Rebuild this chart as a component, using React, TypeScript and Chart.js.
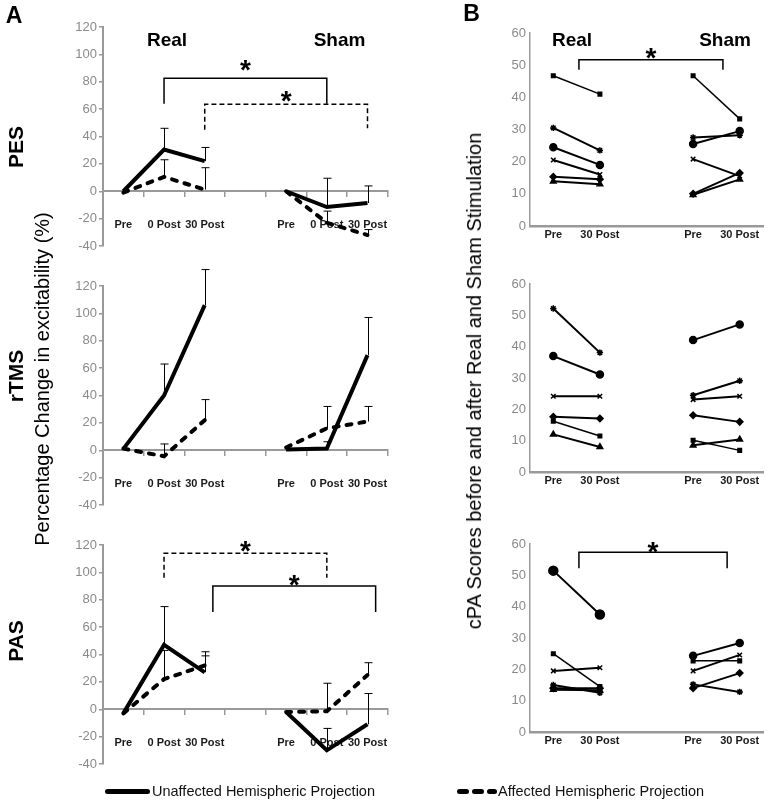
import React, { useEffect, useRef } from 'react';
import { Chart, registerables } from 'chart.js';

Chart.register(...registerables);

const FONT = "'Liberation Sans', Arial, Helvetica, sans-serif";

// ---------- Panel A data (percentage change in excitability) ----------
const A_LABELS = ['Pre', '0 Post', '30 Post', '', 'Pre', '0 Post', '30 Post'];

// PES
const pesRealUnaff = [0, 30.5, 22];
const pesRealUnaffErr = [0, 15.5, 10];
const pesRealAff = [-1, 10.5, 1.2];
const pesRealAffErr = [0, 12.5, 16];
const pesShamUnaff = [0, -11.5, -8.6];
const pesShamUnaffErr = [0, 21, 12.5];
const pesShamAff = [0, -23, -32];
const pesShamAffErr = [0, 8.5, 4];

// rTMS
const rtmsRealUnaff = [1, 40, 106];
const rtmsRealUnaffErr = [0, 23, 26];
const rtmsRealAff = [1.2, -4.4, 22];
const rtmsRealAffErr = [0, 9, 15];
const rtmsShamUnaff = [0.5, 1.2, 69.5];
const rtmsShamUnaffErr = [0, 5, 27.5];
const rtmsShamAff = [2, 16, 21];
const rtmsShamAffErr = [0, 16, 11];

// PAS
const pasRealUnaff = [-3, 47, 27];
const pasRealUnaffErr = [0, 28, 15];
const pasRealAff = [-3, 22, 32];
const pasRealAffErr = [0, 21, 7];
const pasShamUnaff = [-2, -30, -11];
const pasShamUnaffErr = [0, 16, 22.5];
const pasShamAff = [-2, -1.5, 25];
const pasShamAffErr = [0, 20.5, 9];

// significance brackets (category index / value units)
const pesBrackets = [
  { from: 1, to: 5, top: 82.5, leftEnd: 64, rightEnd: 64, dashed: false, star: 94 },
  { from: 2, to: 6, top: 63.5, leftEnd: 45, rightEnd: 46, dashed: true, star: 71 },
];
const pasBrackets = [
  { from: 1, to: 5, top: 114, leftEnd: 96, rightEnd: 96, dashed: true, star: 121 },
  { from: 2.2, to: 6.2, top: 90, leftEnd: 71, rightEnd: 71, dashed: false, star: 96 },
];

// ---------- Panel B data (cPA scores) ----------
const B_LABELS = ['Pre', '30 Post', '', 'Pre', '30 Post'];
const B_MARKERS = ['rect', 'star', 'circle', 'crossRot', 'rectRot', 'triangle'];

const b1RealPre = [46.7, 30.5, 24.5, 20.5, 15.3, 13.9];
const b1RealPost = [41, 23.5, 19, 16, 14.5, 13];
const b1ShamPre = [46.7, 27.5, 25.5, 20.8, 10, 9.7];
const b1ShamPost = [33.3, 28.2, 29.5, 15.5, 16.5, 14.5];

const b2RealPre = [16.2, 52.2, 37, 24.2, 17.6, 12];
const b2RealPost = [11.5, 38.1, 31.1, 24.2, 17.1, 8];
const b2ShamPre = [10.1, 24.5, 42.1, 23.1, 18.1, 8.5];
const b2ShamPost = [6.9, 29.1, 47.1, 24.2, 16, 10.4];

const b3RealPre = [25, 15, 51.5, 19.5, 14, 13.5];
const b3RealPost = [14.5, 12.5, 37.5, 20.5, 14, 13.3];
const b3ShamPre = [22.7, 15.2, 24.3, 19.5, 14, null];
const b3ShamPost = [22.7, 12.8, 28.4, 24.6, 18.8, null];

const b1Brackets = [{ from: 0.55, to: 3.64, top: 51.7, leftEnd: 48.6, rightEnd: 48.6, dashed: false, star: 54.3 }];
const b3Brackets = [{ from: 0.55, to: 3.73, top: 57.4, leftEnd: 52.3, rightEnd: 52.3, dashed: false, star: 59.8 }];

// ---------- plugin: error bars + brackets ----------
const extrasPlugin = {
  id: 'extras',
  afterDatasetsDraw(chart: any, _args: any, opts: any) {
    const ctx = chart.ctx;
    const xs = chart.scales.x;
    const ys = chart.scales.y;
    ctx.save();
    chart.data.datasets.forEach((ds: any) => {
      const err = ds.errorBars;
      if (!err) return;
      ds.data.forEach((v: number | null, j: number) => {
        const e = err[j];
        if (v == null || !e) return;
        const x = Math.round(xs.getPixelForValue(j)) + 0.5;
        const y0 = ys.getPixelForValue(v);
        const y1 = ys.getPixelForValue(v + e);
        ctx.strokeStyle = '#000';
        ctx.lineWidth = 1;
        ctx.setLineDash([]);
        ctx.beginPath();
        ctx.moveTo(x, y0);
        ctx.lineTo(x, y1);
        ctx.moveTo(x - 4, y1);
        ctx.lineTo(x + 4, y1);
        ctx.stroke();
      });
    });
    (opts.brackets || []).forEach((b: any) => {
      const x1 = xs.getPixelForValue(b.from);
      const x2 = xs.getPixelForValue(b.to);
      const yt = ys.getPixelForValue(b.top);
      ctx.strokeStyle = '#000';
      ctx.lineWidth = 1.5;
      ctx.setLineDash(b.dashed ? [5, 3] : []);
      ctx.beginPath();
      ctx.moveTo(x1, ys.getPixelForValue(b.leftEnd));
      ctx.lineTo(x1, yt);
      ctx.lineTo(x2, yt);
      ctx.lineTo(x2, ys.getPixelForValue(b.rightEnd));
      ctx.stroke();
      ctx.setLineDash([]);
      const fs = 28;
      ctx.font = `bold ${fs}px ${FONT}`;
      ctx.fillStyle = '#000';
      ctx.textAlign = 'center';
      ctx.textBaseline = 'alphabetic';
      ctx.fillText('*', (x1 + x2) / 2, ys.getPixelForValue(b.star) + 0.57 * fs);
    });
    ctx.restore();
  },
};

// ---------- builders ----------
const PAD4 = [null, null, null, null];
function aSeries(vals: number[], errs: number[], group: 'real' | 'sham', dashed: boolean) {
  const data = group === 'real' ? [...vals, ...PAD4] : [...PAD4, ...vals];
  const errorBars = group === 'real' ? [...errs, ...PAD4] : [...PAD4, ...errs];
  return {
    data,
    errorBars,
    borderColor: '#000',
    borderWidth: 4,
    borderDash: dashed ? [5, 8] : [],
    borderCapStyle: dashed ? 'round' : 'butt',
    pointRadius: 0,
    fill: false,
    spanGaps: false,
    tension: 0,
  };
}

function aConfig(datasets: any[], brackets: any[], padding: any) {
  return {
    type: 'line',
    data: { labels: A_LABELS, datasets },
    options: {
      responsive: false,
      animation: false,
      layout: { padding },
      plugins: { legend: { display: false }, tooltip: { enabled: false }, extras: { brackets } },
      scales: {
        x: {
          type: 'category',
          position: { y: 0 },
          offset: true,
          grid: { display: true, offset: true, drawOnChartArea: false, drawTicks: true, tickLength: 5, color: '#999', lineWidth: 1.5 },
          border: { display: true, color: '#999', width: 2 },
          ticks: { autoSkip: false, maxRotation: 0, minRotation: 0, padding: 22, color: '#1a1a1a', font: { family: FONT, size: 11, weight: 'bold' } },
        },
        y: {
          min: -40,
          max: 120,
          ticks: { stepSize: 20, padding: 2, color: '#8a8a8a', font: { family: FONT, size: 13 } },
          grid: { display: true, drawOnChartArea: false, drawTicks: true, tickLength: 4, color: '#999', lineWidth: 1.5 },
          border: { display: true, color: '#999', width: 2 },
          afterFit: (s: any) => { s.width = 103; },
        },
      },
    },
    plugins: [extrasPlugin],
  };
}

function bSeries(pre: (number | null)[], post: (number | null)[], group: 'real' | 'sham', bigCircle: boolean) {
  const out: any[] = [];
  pre.forEach((p, i) => {
    const q = post[i];
    if (p == null || q == null) return;
    const data = group === 'real' ? [p, q, null, null, null] : [null, null, null, p, q];
    const style = B_MARKERS[i];
    const r = style === 'circle' ? (bigCircle && group === 'real' ? 4.5 : 3.5) : style === 'rect' ? 2.5 : 3.2;
    out.push({
      data,
      borderColor: '#000',
      borderWidth: style === 'rect' ? 1.5 : 2,
      pointStyle: style,
      pointRadius: r,
      pointBackgroundColor: '#000',
      pointBorderColor: '#000',
      pointBorderWidth: 1.5,
      fill: false,
      spanGaps: false,
      tension: 0,
    });
  });
  return out;
}

function bConfig(datasets: any[], brackets: any[], padding: any) {
  return {
    type: 'line',
    data: { labels: B_LABELS, datasets },
    options: {
      responsive: false,
      animation: false,
      layout: { padding },
      plugins: { legend: { display: false }, tooltip: { enabled: false }, extras: { brackets } },
      scales: {
        x: {
          type: 'category',
          position: { y: 0 },
          offset: true,
          grid: { display: false, drawTicks: false },
          border: { display: true, color: '#999', width: 2.5 },
          ticks: { autoSkip: false, maxRotation: 0, minRotation: 0, padding: 2, color: '#1a1a1a', font: { family: FONT, size: 11, weight: 'bold' } },
        },
        y: {
          min: 0,
          max: 60,
          ticks: { stepSize: 10, padding: 4, color: '#8a8a8a', font: { family: FONT, size: 13 } },
          grid: { display: false, drawTicks: false },
          border: { display: true, color: '#999', width: 1.5 },
          afterFit: (s: any) => { s.width = 60; },
        },
      },
    },
    plugins: [extrasPlugin],
  };
}

type TxtProps = { text: string; x: number; y: number; size: number; bold?: boolean; rotate?: boolean; left?: boolean; color?: string };
function Txt({ text, x, y, size, bold, rotate, left, color }: TxtProps) {
  const style: React.CSSProperties = {
    position: 'absolute',
    left: x,
    top: y,
    fontFamily: FONT,
    fontSize: size,
    fontWeight: bold ? 'bold' : 'normal',
    lineHeight: 1,
    whiteSpace: 'nowrap',
    color: color || '#000',
    transform: left ? 'translate(0,-50%)' : `translate(-50%,-50%)${rotate ? ' rotate(-90deg)' : ''}`,
  };
  return <div style={style}>{text}</div>;
}

export default function App() {
  const refs = [useRef<HTMLCanvasElement>(null), useRef<HTMLCanvasElement>(null), useRef<HTMLCanvasElement>(null),
    useRef<HTMLCanvasElement>(null), useRef<HTMLCanvasElement>(null), useRef<HTMLCanvasElement>(null)];

  useEffect(() => {
    const configs: any[] = [
      aConfig([
        aSeries(pesRealAff, pesRealAffErr, 'real', true),
        aSeries(pesRealUnaff, pesRealUnaffErr, 'real', false),
        aSeries(pesShamAff, pesShamAffErr, 'sham', true),
        aSeries(pesShamUnaff, pesShamUnaffErr, 'sham', false),
      ], pesBrackets, { left: 0, right: 13, top: 27, bottom: 16 }),
      aConfig([
        aSeries(rtmsRealAff, rtmsRealAffErr, 'real', true),
        aSeries(rtmsRealUnaff, rtmsRealUnaffErr, 'real', false),
        aSeries(rtmsShamAff, rtmsShamAffErr, 'sham', true),
        aSeries(rtmsShamUnaff, rtmsShamUnaffErr, 'sham', false),
      ], [], { left: 0, right: 13, top: 24, bottom: 19 }),
      aConfig([
        aSeries(pasRealAff, pasRealAffErr, 'real', true),
        aSeries(pasRealUnaff, pasRealUnaffErr, 'real', false),
        aSeries(pasShamAff, pasShamAffErr, 'sham', true),
        aSeries(pasShamUnaff, pasShamUnaffErr, 'sham', false),
      ], pasBrackets, { left: 0, right: 13, top: 21, bottom: 22 }),
      bConfig([...bSeries(b1RealPre, b1RealPost, 'real', false), ...bSeries(b1ShamPre, b1ShamPost, 'sham', false)],
        b1Brackets, { left: 0, right: 6, top: 33, bottom: 24 }),
      bConfig([...bSeries(b2RealPre, b2RealPost, 'real', false), ...bSeries(b2ShamPre, b2ShamPost, 'sham', false)],
        [], { left: 0, right: 6, top: 34, bottom: 28 }),
      bConfig([...bSeries(b3RealPre, b3RealPost, 'real', true), ...bSeries(b3ShamPre, b3ShamPost, 'sham', false)],
        b3Brackets, { left: 0, right: 6, top: 44, bottom: 18 }),
    ];
    const charts = configs.map((cfg, i) => new Chart(refs[i].current as HTMLCanvasElement, cfg));
    return () => charts.forEach((c) => c.destroy());
  }, []);

  const canv = (i: number, left: number, top: number, w: number, h: number) => (
    <canvas ref={refs[i]} width={w} height={h} style={{ position: 'absolute', left, top, width: w, height: h }} />
  );

  return (
    <div style={{ position: 'absolute', left: 0, top: 0, width: 769, height: 800, background: '#fff', overflow: 'hidden' }}>
      {canv(0, 0, 0, 410, 262)}
      {canv(1, 0, 262, 410, 262)}
      {canv(2, 0, 524, 410, 262)}
      {canv(3, 470, 0, 299, 250)}
      {canv(4, 470, 250, 299, 250)}
      {canv(5, 470, 500, 299, 250)}

      <Txt text="A" x={14} y={14.5} size={23} bold />
      <Txt text="B" x={471.5} y={12.5} size={23} bold />
      <Txt text="Real" x={167} y={38.5} size={19} bold />
      <Txt text="Sham" x={339.5} y={38.5} size={19} bold />
      <Txt text="Real" x={572} y={38.5} size={19} bold />
      <Txt text="Sham" x={725} y={38.5} size={19} bold />
      <Txt text="PES" x={15} y={147} size={21} bold rotate />
      <Txt text="rTMS" x={15} y={376} size={21} bold rotate />
      <Txt text="PAS" x={15} y={641} size={21} bold rotate />
      <Txt text="Percentage Change in excitability (%)" x={42} y={379} size={20} rotate />
      <Txt text="cPA Scores before and after Real and Sham Stimulation" x={474} y={381} size={20} rotate />

      <div style={{ position: 'absolute', left: 105, top: 788.5, width: 45, height: 5, background: '#000', borderRadius: 2.5 }} />
      <Txt text="Unaffected Hemispheric Projection" x={152} y={790.5} size={14.5} left color="#111" />
      <div style={{ position: 'absolute', left: 457, top: 788.5, width: 12, height: 5, background: '#000', borderRadius: 2.5 }} />
      <div style={{ position: 'absolute', left: 472, top: 788.5, width: 12, height: 5, background: '#000', borderRadius: 2.5 }} />
      <div style={{ position: 'absolute', left: 487, top: 788.5, width: 10, height: 5, background: '#000', borderRadius: 2.5 }} />
      <Txt text="Affected Hemispheric Projection" x={498} y={790.5} size={14.5} left color="#111" />
    </div>
  );
}
